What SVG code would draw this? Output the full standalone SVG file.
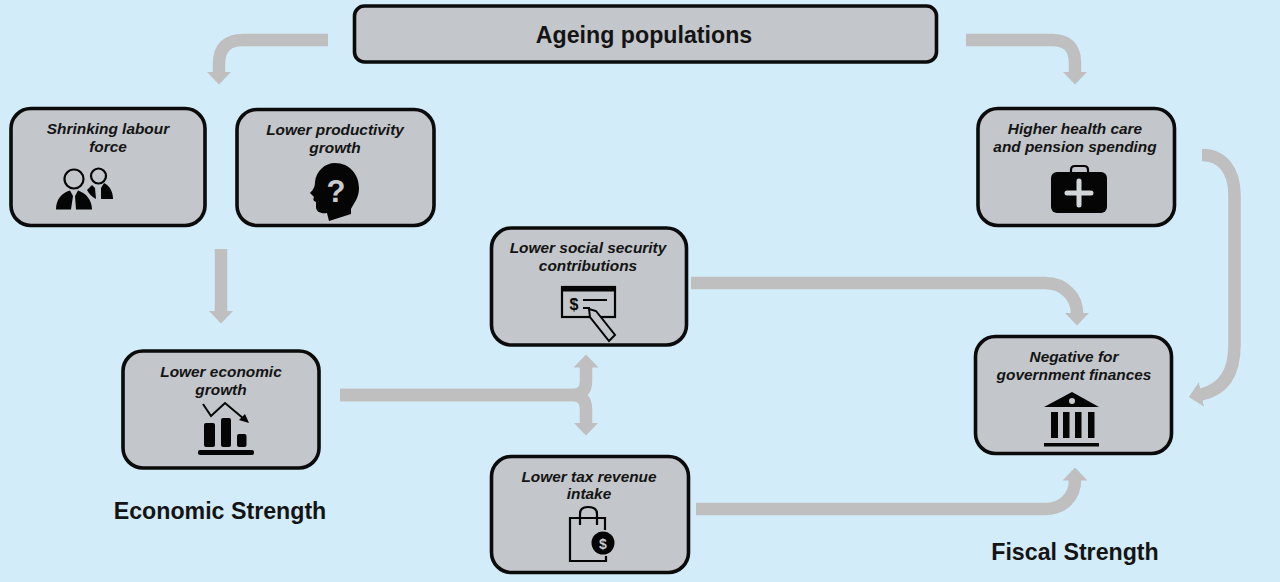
<svg xmlns="http://www.w3.org/2000/svg" width="1280" height="582" viewBox="0 0 1280 582">
<style>
.box{fill:#c3c6ca;stroke:#0b0b0b;stroke-width:3.6}
.t{font-family:"Liberation Sans",Arial,sans-serif;font-weight:bold;font-style:italic;font-size:15.400px;fill:#141414;text-anchor:middle}
.h{font-family:"Liberation Sans",Arial,sans-serif;font-weight:bold;font-size:23.200px;fill:#141414;text-anchor:middle}
.c{fill:none;stroke:#bfbfbf;stroke-width:12.5;marker-end:url(#ah)}
.i{fill:#050505;stroke:none}
.o{fill:none;stroke:#050505;stroke-width:2.2}
</style>
<defs>
<marker id="ah" markerUnits="userSpaceOnUse" viewBox="0 -12.500 13 25" markerWidth="13" markerHeight="25" refX="0.500" refY="0" orient="auto">
<path d="M0,-12.500 L13,0 L0,12.500Z" fill="#bfbfbf"/>
</marker>
</defs>
<rect width="1280" height="582" fill="#d3ecfa"/>
<g id="connectors">
<path class="c" d="M328,40 H243 Q219,40 219,64 V72"/>
<path class="c" d="M966,40 H1052 Q1075,40 1075,63 V72"/>
<path class="c" d="M221,249 V311"/>
<path class="c" d="M340,395 H572 Q586,395 586,381 V367"/>
<path class="c" d="M340,395 H572 Q586,395 586,409 V423"/>
<path class="c" d="M691,283 H1045 C1065,283 1077,298 1077,313"/>
<path class="c" d="M696,509 H1045 C1063,509 1075,497 1075,480"/>
<path class="c" d="M1202,155 C1222,155 1234.5,170 1234.5,195 V345 C1234.5,375 1222,390 1201,394.500"/>
</g>
<g id="ageing"><rect class="box" x="354.500" y="6" width="582" height="56" rx="10"/><text class="h" x="644" y="42.500">Ageing populations</text></g>
<g id="shrinking"><rect class="box" x="11" y="108.500" width="194" height="117" rx="20"/>
<text class="t" x="108" y="134">Shrinking labour</text><text class="t" x="108" y="152">force</text>
<circle cx="74" cy="179" r="9.500" class="o"/><circle cx="98.500" cy="176" r="7.500" class="o"/>
<path class="i" d="M56,209.500 C56,199 62,193 70,190.500 L73,196 L71,209.500Z M76,209.500 L75,196 L78,190.500 C86,193 92,200 92,209.500Z M87,190 L92,185 L95,188 L96,199 C92,197 89,194 87,190Z M101,199 L101,188 L104,183 C110,186 113,192 113,199Z"/>
</g>
<g id="productivity"><rect class="box" x="237" y="109.500" width="197" height="116" rx="20"/>
<text class="t" x="335" y="135">Lower productivity</text><text class="t" x="335" y="153">growth</text>
<path class="i" d="M335,163 C350,163 359,175 359,188 C359,198 354,203 351,209 L351,214 L329,221 L327,213 C321,214 316,212 316,207 L316,202 C313,201 313,199 314,197 L310,193 C314,189 315,186 315,182 C316,171 325,163 335,163Z"/>
<text x="336" y="202" font-family="'Liberation Sans',Arial,sans-serif" font-weight="bold" font-size="31" fill="#c9cccf" text-anchor="middle">?</text>
</g>
<g id="economic"><rect class="box" x="123" y="351" width="196" height="117" rx="20"/>
<text class="t" x="221" y="377">Lower economic</text><text class="t" x="221" y="395">growth</text>
<path d="M203,404 L211,416 L225,403 L244,419" class="o" style="stroke-width:2"/>
<path class="i" d="M249,423 L239,420 L245,414Z"/>
<rect class="i" x="204" y="423" width="11" height="24" rx="2"/><rect class="i" x="221" y="418" width="10" height="29" rx="2"/><rect class="i" x="237" y="434" width="9.500" height="13" rx="2"/><rect class="i" x="198" y="450" width="56" height="5" rx="2"/>
</g>
<g id="social"><rect class="box" x="491.500" y="228" width="195" height="117" rx="20"/>
<text class="t" x="588" y="253">Lower social security</text><text class="t" x="588" y="271">contributions</text>
<rect class="o" x="562" y="287" width="53" height="30"/><rect class="i" x="561" y="286" width="55" height="5.500"/>
<text x="574" y="310" font-family="'Liberation Sans',Arial,sans-serif" font-weight="bold" font-size="16" fill="#050505" text-anchor="middle">$</text>
<path d="M583,300 H607 M583,308 H590" class="o" style="stroke-width:1.800"/>
<path d="M589,309 L596,311 L615,335 L609,341 L590,317Z" fill="#c3c6ca" stroke="#050505" stroke-width="2"/>
</g>
<g id="tax"><rect class="box" x="491.500" y="456.500" width="197" height="116" rx="20"/>
<text class="t" x="589" y="482">Lower tax revenue</text><text class="t" x="589" y="499">intake</text>
<path class="o" d="M570,524 V518 H605 V530 M570,524 V561 H606 V556 M580,525 V514 Q580,507 588,507 Q597,507 597,514 V525"/>
<circle cx="603" cy="543" r="11.500" fill="#050505"/>
<text x="603" y="548.500" font-family="'Liberation Sans',Arial,sans-serif" font-weight="bold" font-size="14" fill="#c9cccf" text-anchor="middle">$</text>
</g>
<g id="health"><rect class="box" x="978" y="108.500" width="196.500" height="117" rx="20"/>
<text class="t" x="1075" y="134">Higher health care</text><text class="t" x="1075" y="152">and pension spending</text>
<rect class="i" x="1051" y="172" width="56" height="41" rx="6"/>
<path d="M1071,172 V170 Q1071,166 1075,166 H1084 Q1088,166 1088,170 V172" class="o"/>
<path d="M1079,181 V205 M1067,193 H1091" stroke="#d3d6d9" stroke-width="5" stroke-linecap="round" fill="none"/>
</g>
<g id="negative"><rect class="box" x="975.500" y="336.500" width="196" height="117" rx="20"/>
<text class="t" x="1074" y="362">Negative for</text><text class="t" x="1074" y="380">government finances</text>
<path class="i" d="M1044,407 L1072,392 L1099,407Z"/>
<circle cx="1072" cy="401" r="3" fill="#c9cccf"/>
<rect class="i" x="1051" y="412" width="7" height="26"/><rect class="i" x="1063" y="412" width="6.500" height="26"/><rect class="i" x="1075" y="412" width="6.500" height="26"/><rect class="i" x="1088" y="412" width="6.500" height="26"/><rect class="i" x="1044" y="443" width="55" height="3.500"/>
</g>
<g id="captions">
<text class="h" x="220" y="519">Economic Strength</text>
<text class="h" x="1075" y="560">Fiscal Strength</text>
</g>
</svg>
